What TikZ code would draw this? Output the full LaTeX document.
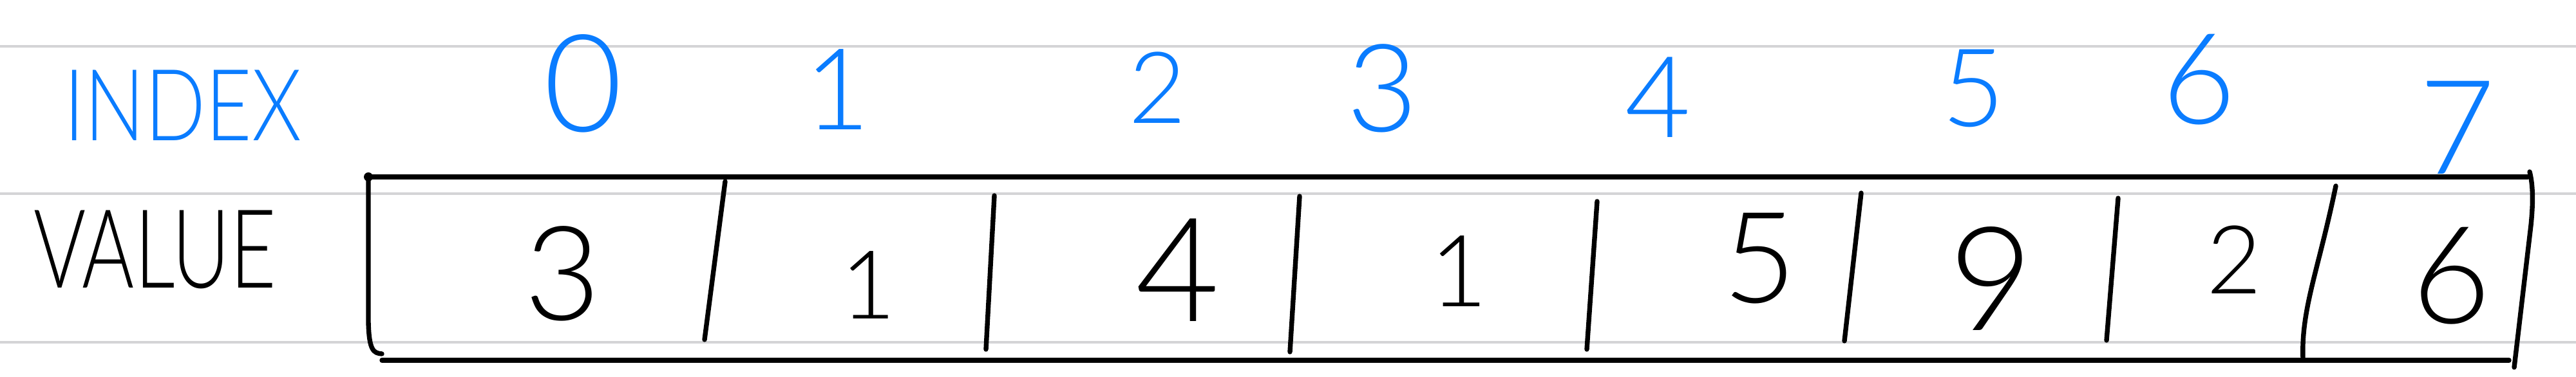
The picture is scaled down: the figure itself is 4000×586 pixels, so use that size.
\documentclass[tikz,border=0pt]{standalone}
\usepackage{fontspec}
\usepackage{graphicx}
\setmainfont{Lato Light}
\definecolor{inkblue}{RGB}{10,124,255}
\definecolor{rulegray}{RGB}{212,212,214}
\begin{document}
\begin{tikzpicture}[x=0.01cm,y=-0.01cm,
  ruleline/.style={draw=rulegray,line width=1.3pt},
  ink/.style={draw=black,line width=2.1pt,line cap=round,line join=round},
  idx/.style={text=inkblue,inner sep=0pt,font=\fontsize{#1}{#1}\selectfont},
  val/.style={text=black,inner sep=0pt,font=\fontsize{#1}{#1}\selectfont},
  lbl/.style={inner sep=0pt,font=\fontsize{44}{44}\selectfont}]
\useasboundingbox (0,0) rectangle (4000,586);
\fill[white] (0,0) rectangle (4000,586);
% ruled paper lines
\draw[ruleline] (0,72) -- (4000,72);
\draw[ruleline] (0,301) -- (4000,301);
\draw[ruleline] (0,532) -- (4000,532);
% labels
\node[lbl,text=inkblue] (lindex) at (284,164) {\scalebox{0.8}[1]{INDEX}};
\node[lbl,text=black] (lvalue) at (241,388) {\scalebox{0.8}[1.1]{VALUE}};
% index digits
\node[idx=60] (i0) at (906,130) {0};
\node[idx=50] (i1) at (1300,139) {1};
\node[idx=44] (i2) at (1797,136) {2};
\node[idx=54] (i3) at (2147,137) {3};
\node[idx=50] (i4) at (2574,151) {4};
\node[idx=48] (i5) at (3064,137) {5};
\node[idx=56] (i6) at (3415,124) {6};
\node[idx=58] (i7) at (3816,198) {7};
% array box
\coordinate (tl) at (572,275);
\coordinate (tr) at (3928,267);
\coordinate (bl) at (593,560);
\coordinate (br) at (3896,560);
\draw[ink] (tl) -- (3925,275);
\draw[ink] (bl) -- (br);
\fill (tl) circle (7);
\draw[ink] (tl) -- (572,500) .. controls (573,545) and (580,549) .. (593,550);
\draw[ink] (tr) .. controls (3934,290) and (3933,320) .. (3930,350) -- (3904,571);
% dividers
\draw[ink] (1126,282) -- (1094,528);
\draw[ink] (1544,304) -- (1531,543);
\draw[ink] (2018,305) -- (2003,547);
\draw[ink] (2480,313) -- (2464,543);
\draw[ink] (2890,300) -- (2864,530);
\draw[ink] (3289,308) -- (3271,529);
\draw[ink] (3627,289) .. controls (3600,420) and (3573,480) .. (3576,558);
% values
\node[val=58] (v0) at (874,425) {3};
\node[val=42] (v1) at (1348,443) {1};
\node[val=64] (v2) at (1829,420) {4};
\node[val=44] (v3) at (2265,422) {1};
\node[val=56] (v4) at (2733,402) {5};
\node[val=64] (v5) at (3092,433) {9};
\node[val=42] (v6) at (3469,404) {2};
\node[val=60] (v7) at (3807,429) {6};
\end{tikzpicture}
\end{document}
